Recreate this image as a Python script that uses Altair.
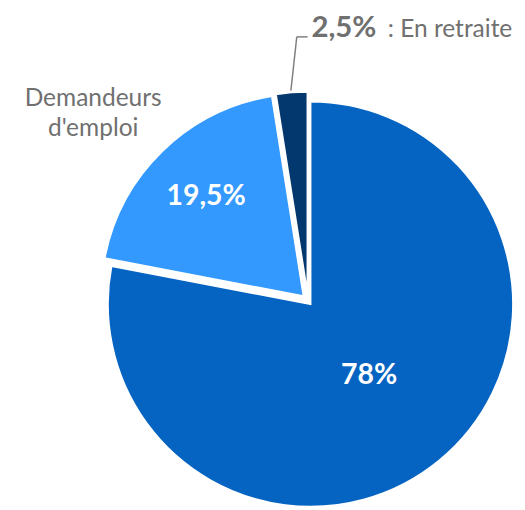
import math
import altair as alt
import pandas as pd

# ---- data ----
categories = ["Actifs occupés", "Demandeurs d'emploi", "En retraite"]
values = [78, 19.5, 2.5]
value_labels = ["78%", "19,5%", "2,5%"]
colors = ["#0563C1", "#3399FF", "#03386E"]

df = pd.DataFrame({"cat": categories, "value": values, "label": value_labels})
df["end"] = df["value"].cumsum()
df["start"] = df["end"] - df["value"]
df["mid"] = (df["start"] + df["end"]) / 2

# ---- layout ----
CX, CY = 309, 297
R = 207
offsets = {categories[0]: (0, 0), categories[1]: (-7, -8), categories[2]: (-3, -10)}
GRAY = "#707070"
FONT = "Lato"

theta_scale = alt.Scale(domain=[0, 100], range=[0, 2 * math.pi])
color_scale = alt.Scale(domain=categories, range=colors)
base = alt.Chart(df)


def only(cat):
    return base.transform_filter(alt.FieldEqualPredicate(field="cat", equal=cat))


layers = []
for cat in categories:
    dx, dy = offsets[cat]
    layers.append(
        only(cat)
        .mark_arc(x=CX + dx, y=CY + dy, outerRadius=R, stroke="white", strokeWidth=2)
        .encode(
            theta=alt.Theta("start:Q", scale=theta_scale, stack=None),
            theta2="end:Q",
            color=alt.Color("cat:N", scale=color_scale, legend=None),
        )
    )

# white labels inside slices
inner = [(categories[0], 94), (categories[1], 143)]
for cat, rad in inner:
    dx, dy = offsets[cat]
    layers.append(
        only(cat)
        .mark_text(x=CX + dx, y=CY + dy, radius=rad, font=FONT, fontWeight="bold",
                   fontSize=29, color="white", align="center", baseline="middle")
        .encode(theta=alt.Theta("mid:Q", scale=theta_scale, stack=None), text="label:N")
    )

# leader line for small slice
layers.append(
    alt.Chart(df.head(1)).mark_rule(color="#7F7F7F", strokeWidth=1.5).encode(
        x=alt.value(289), y=alt.value(79), x2=alt.value(295), y2=alt.value(24)
    )
)
layers.append(
    alt.Chart(df.head(1)).mark_rule(color="#7F7F7F", strokeWidth=1.5).encode(
        x=alt.value(295), y=alt.value(24), x2=alt.value(306), y2=alt.value(24)
    )
)

# outside labels
layers.append(
    only(categories[2])
    .mark_text(x=310, y=24, font=FONT, fontWeight="bold", fontSize=30, color=GRAY,
               align="left", baseline="alphabetic")
    .encode(text="label:N")
)
layers.append(
    only(categories[2])
    .transform_calculate(t="': ' + datum.cat")
    .mark_text(x=388, y=24, font=FONT, fontSize=25, color=GRAY,
               align="left", baseline="alphabetic")
    .encode(text="t:N")
)
layers.append(
    only(categories[1])
    .transform_calculate(t="split(datum.cat, ' ')")
    .mark_text(x=87, y=95, font=FONT, fontSize=25, color=GRAY, lineHeight=30,
               align="center", baseline="alphabetic")
    .encode(text="t:N")
)

chart = (
    alt.layer(*layers)
    .properties(width=509, height=494, padding=0)
    .configure_view(stroke=None)
)

chart.save("out.html", embed_options={"renderer": "svg", "actions": False})
